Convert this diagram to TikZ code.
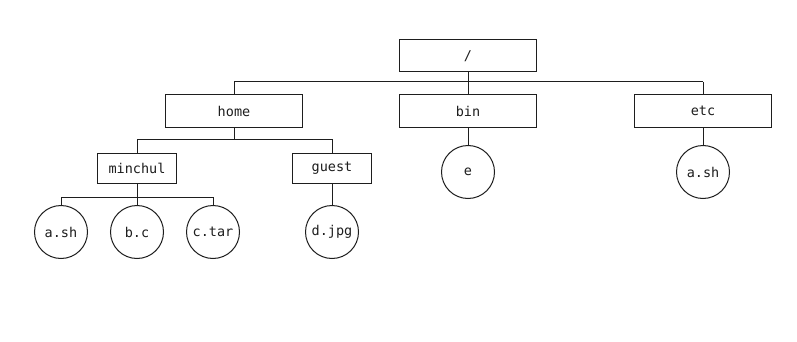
\documentclass[tikz,border=0pt]{standalone}
\usepackage{fontspec}
\setmonofont{DejaVu Sans Mono}
\usetikzlibrary{positioning}
\definecolor{fs-line}{HTML}{1E1E1E}

\begin{document}
\begin{tikzpicture}[
    x=1pt, y=-1pt,
    font=\ttfamily\fontsize{13.5}{15}\selectfont,
    line width=1pt
  ]

  \tikzset{
    dirbox/.style={draw=fs-line, fill=white, minimum width=137pt, minimum height=32pt, inner sep=0pt, text=fs-line},
    subdir/.style={draw=fs-line, fill=white, minimum width=79pt, minimum height=30pt, inner sep=0pt, text=fs-line},
    leaf/.style={draw=fs-line, fill=white, circle, minimum size=53pt, inner sep=0pt, text=fs-line},
    link/.style={draw=fs-line}
  }

  \useasboundingbox (0,0) rectangle (797,342);

  % Directories
  \node (root)    [dirbox] at (468,56)  {/};
  \node (home)    [dirbox] at (234,111) {home};
  \node (bin)     [dirbox] at (468,111) {bin};
  \node (etc)     [dirbox] at (703,111) {etc};
  \node (minchul) [subdir] at (137,168) {minchul};
  \node (guest)   [subdir] at (332,168) {guest};

  % Files
  \node (ash)  [leaf] at (61,232)  {a.sh};
  \node (bc)   [leaf] at (137,232) {b.c};
  \node (ctar) [leaf] at (213,232) {c.tar};
  \node (djpg) [leaf] at (332,232) {d.jpg};
  \node (e)    [leaf] at (468,172) {e};
  \node (ash2) [leaf] at (703,172) {a.sh};

  % Branch lines
  \coordinate (rootbus) at (468,82);
  \coordinate (homebus) at (234,139);
  \coordinate (userbus) at (137,197);

  \draw[link] (root.south) -- (rootbus);
  \draw[link] (rootbus -| home) -- (rootbus -| etc);
  \foreach \kid in {home,bin,etc}
    \draw[link] (rootbus -| \kid) -- (\kid.north);

  \draw[link] (home.south) -- (homebus);
  \draw[link] (homebus -| minchul) -- (homebus -| guest);
  \foreach \kid in {minchul,guest}
    \draw[link] (homebus -| \kid) -- (\kid.north);

  \draw[link] (minchul.south) -- (userbus);
  \draw[link] (userbus -| ash) -- (userbus -| ctar);
  \foreach \kid in {ash,bc,ctar}
    \draw[link] (userbus -| \kid) -- (\kid.north);

  \draw[link] (guest.south) -- (djpg.north);
  \draw[link] (bin.south) -- (e.north);
  \draw[link] (etc.south) -- (ash2.north);

\end{tikzpicture}
\end{document}
